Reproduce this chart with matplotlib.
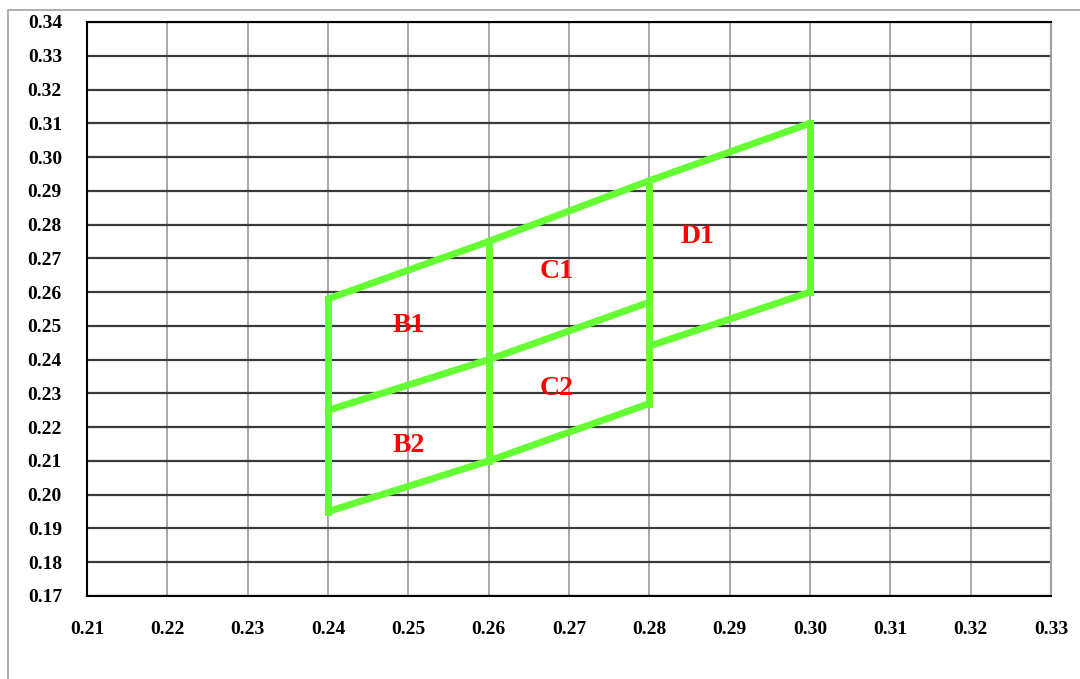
import matplotlib.pyplot as plt
from matplotlib.patches import Rectangle
import numpy as np

# grid points of the green frame (x, y)
x_cols = [0.24, 0.26, 0.28, 0.30]
top_y = [0.258, 0.275, 0.293, 0.310]
mid_y = [0.225, 0.240, 0.257]
mid2_y = [0.244, 0.260]
bot_y = [0.195, 0.210, 0.227]

labels = ["B1", "B2", "C1", "C2", "D1"]
label_x = [0.250, 0.250, 0.2685, 0.2685, 0.286]
label_y = [0.250, 0.2145, 0.266, 0.2315, 0.2765]

xticks = np.round(np.arange(0.21, 0.3301, 0.01), 2)
yticks = np.round(np.arange(0.17, 0.3401, 0.01), 2)

green = "#66ff33"
serif = ["Liberation Serif", "DejaVu Serif"]

fig = plt.figure(figsize=(10.8, 6.79), dpi=100)
ax = fig.add_axes([87 / 1080, 1 - 596 / 679, (1051 - 87) / 1080, (596 - 22) / 679])

# outer chart frame
fig.patches.append(Rectangle((8 / 1080, -0.1), 1.2, 1 - 10 / 679 + 0.1,
                             transform=fig.transFigure, fill=False,
                             edgecolor="#a0a0a0", linewidth=1.2))

for x in xticks:
    ax.axvline(x, color="#9a9a9a", linewidth=1.2, zorder=1)
for y in yticks:
    ax.axhline(y, color="#3a3a3a", linewidth=1.6, zorder=1)

lw = 5
ax.plot(x_cols, top_y, color=green, linewidth=lw, solid_capstyle="round", zorder=3)
ax.plot(x_cols[:3], mid_y, color=green, linewidth=lw, solid_capstyle="round", zorder=3)
ax.plot(x_cols[2:], mid2_y, color=green, linewidth=lw, solid_capstyle="round", zorder=3)
ax.plot(x_cols[:3], bot_y, color=green, linewidth=lw, solid_capstyle="round", zorder=3)
ax.plot([x_cols[0]] * 2, [bot_y[0], top_y[0]], color=green, linewidth=lw, zorder=3)
ax.plot([x_cols[1]] * 2, [bot_y[1], top_y[1]], color=green, linewidth=lw, zorder=3)
ax.plot([x_cols[2]] * 2, [bot_y[2], top_y[2]], color=green, linewidth=lw, zorder=3)
ax.plot([x_cols[3]] * 2, [mid2_y[1], top_y[3]], color=green, linewidth=lw, zorder=3)

for t, lx, ly in zip(labels, label_x, label_y):
    ax.text(lx, ly, t, color="red", fontsize=20, fontweight="bold",
            family=serif, ha="center", va="center", zorder=4)

ax.set_xlim(0.21, 0.33)
ax.set_ylim(0.17, 0.34)
ax.set_xticks(xticks)
ax.set_yticks(yticks)
ax.set_xticklabels([f"{v:.2f}" for v in xticks], fontsize=14, fontweight="bold", family=serif)
ax.set_yticklabels([f"{v:.2f}" for v in yticks], fontsize=14, fontweight="bold", family=serif)
ax.tick_params(length=0)
ax.tick_params(axis="x", pad=18)
ax.tick_params(axis="y", pad=18)
for s in ["left", "bottom", "top"]:
    ax.spines[s].set_color("black")
    ax.spines[s].set_linewidth(1.5)
ax.spines["right"].set_color("#a0a0a0")
ax.spines["right"].set_linewidth(1.5)

fig.savefig("out.png", dpi=100)
